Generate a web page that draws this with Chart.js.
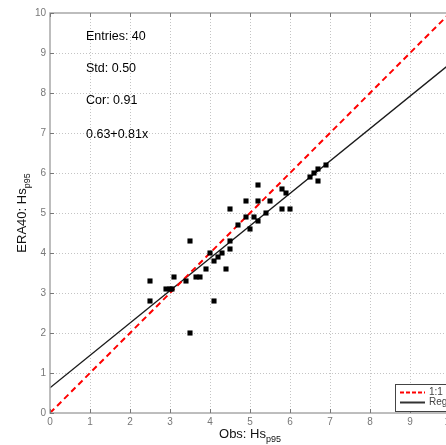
<!DOCTYPE html>
<html>
<head>
<meta charset="utf-8">
<script src="https://cdn.jsdelivr.net/npm/chart.js@4.4.0/dist/chart.umd.min.js"></script>
<style>
  html, body { margin: 0; padding: 0; background: #fff; overflow: hidden; }
  #wrap { width: 446px; height: 445px; overflow: hidden; position: relative; }
  canvas { display: block; }
</style>
</head>
<body>
<div id="wrap"><canvas id="c" width="470" height="445"></canvas></div>
<script>
// ---- Data ----
const obsHs = [2.5, 2.5, 2.9, 3.0, 3.05, 3.1, 3.4, 3.5, 3.5, 3.65,
               3.75, 3.9, 4.0, 4.1, 4.1, 4.2, 4.3, 4.4, 4.5, 4.5,
               4.5, 4.7, 4.9, 4.9, 5.0, 5.1, 5.2, 5.2, 5.2, 5.4,
               5.5, 5.8, 5.9, 5.8, 6.0, 6.5, 6.6, 6.7, 6.7, 6.9];
const eraHs = [3.3, 2.8, 3.1, 3.1, 3.1, 3.4, 3.3, 4.3, 2.0, 3.4,
               3.4, 3.6, 4.0, 3.8, 2.8, 3.9, 4.0, 3.6, 4.3, 4.1,
               5.1, 4.7, 5.3, 4.9, 4.6, 4.9, 5.7, 5.3, 4.8, 5.0,
               5.3, 5.6, 5.5, 5.1, 5.1, 5.9, 6.0, 6.1, 5.8, 6.2];
const oneToOneX = [0, 10];
const oneToOneY = [0, 10];
const regX = [0, 10];
const regY = [0.63, 8.73];
const xTicks = [0, 1, 2, 3, 4, 5, 6, 7, 8, 9, 10];
const yTicks = [0, 1, 2, 3, 4, 5, 6, 7, 8, 9, 10];
const statsLines = ['Entries: 40', 'Std: 0.50', 'Cor: 0.91', '0.63+0.81x'];
const statsY = [9.4, 8.6, 7.8, 6.95];
const statsX = 0.9;
const legendLabels = ['1:1', 'Reg'];

const FONT = '"Liberation Sans", Arial, Helvetica, sans-serif';

const zip = (xs, ys) => xs.map((v, i) => ({x: v, y: ys[i]}));

const decor = {
  id: 'decor',
  beforeDatasetsDraw(chart) {
    const {ctx, chartArea: a, scales: {x, y}} = chart;
    ctx.save();
    ctx.strokeStyle = '#c4c4c4';
    ctx.lineWidth = 1;
    ctx.setLineDash([1, 2]);
    xTicks.forEach(v => {
      const p = Math.round(x.getPixelForValue(v)) + 0.5;
      if (p <= a.left + 1 || p >= a.right - 1) return;
      ctx.beginPath(); ctx.moveTo(p, a.top); ctx.lineTo(p, a.bottom); ctx.stroke();
    });
    yTicks.forEach(v => {
      const p = Math.round(y.getPixelForValue(v)) + 0.5;
      if (p <= a.top + 1 || p >= a.bottom - 1) return;
      ctx.beginPath(); ctx.moveTo(a.left, p); ctx.lineTo(a.right, p); ctx.stroke();
    });
    ctx.restore();
  },
  afterDatasetsDraw(chart) {
    const {ctx, chartArea: a, scales: {x, y}} = chart;
    ctx.save();
    ctx.strokeStyle = '#a8a8a8';
    ctx.lineWidth = 1.5;
    ctx.setLineDash([]);
    ctx.strokeRect(a.left, a.top, a.right - a.left, a.bottom - a.top);
    ctx.strokeStyle = '#777';
    ctx.lineWidth = 1;
    xTicks.forEach(v => {
      const p = Math.round(x.getPixelForValue(v)) + 0.5;
      ctx.beginPath(); ctx.moveTo(p, a.bottom); ctx.lineTo(p, a.bottom - 4); ctx.stroke();
      ctx.beginPath(); ctx.moveTo(p, a.top); ctx.lineTo(p, a.top + 4); ctx.stroke();
    });
    yTicks.forEach(v => {
      const p = Math.round(y.getPixelForValue(v)) + 0.5;
      ctx.beginPath(); ctx.moveTo(a.left, p); ctx.lineTo(a.left + 4, p); ctx.stroke();
      ctx.beginPath(); ctx.moveTo(a.right, p); ctx.lineTo(a.right - 4, p); ctx.stroke();
    });
    ctx.fillStyle = '#000';
    ctx.font = '12.5px ' + FONT;
    ctx.textAlign = 'left';
    ctx.textBaseline = 'middle';
    statsLines.forEach((t, i) => {
      ctx.fillText(t, x.getPixelForValue(statsX), y.getPixelForValue(statsY[i]));
    });
    const bw = 53, bh = 27;
    const bx = a.right - 2 - bw, by = a.bottom - 2 - bh;
    ctx.fillStyle = '#fff';
    ctx.fillRect(bx, by, bw, bh);
    ctx.strokeStyle = '#444';
    ctx.lineWidth = 1;
    ctx.strokeRect(bx + 0.5, by + 0.5, bw, bh);
    const ly1 = by + 8.5, ly2 = by + 18.5;
    ctx.strokeStyle = '#ff0000';
    ctx.lineWidth = 2;
    ctx.setLineDash([4, 2]);
    ctx.beginPath(); ctx.moveTo(bx + 5, ly1); ctx.lineTo(bx + 30, ly1); ctx.stroke();
    ctx.setLineDash([]);
    ctx.strokeStyle = '#333';
    ctx.beginPath(); ctx.moveTo(bx + 5, ly2); ctx.lineTo(bx + 30, ly2); ctx.stroke();
    ctx.fillStyle = '#444';
    ctx.font = '10px ' + FONT;
    ctx.textBaseline = 'middle';
    ctx.fillText(legendLabels[0], bx + 34, ly1);
    ctx.fillText(legendLabels[1], bx + 34, ly2);
    ctx.restore();
  },
  afterDraw(chart) {
    const {ctx, chartArea: a} = chart;
    ctx.save();
    ctx.fillStyle = '#111';
    ctx.textBaseline = 'alphabetic';
    ctx.textAlign = 'left';
    const main = 'Hs', sub = 'p95';
    ctx.font = '13px ' + FONT;
    const xm = 'Obs: ' + main;
    const wMain = ctx.measureText(xm).width;
    ctx.font = '9px ' + FONT;
    const wSub = ctx.measureText(sub).width;
    const cx = (a.left + a.right) / 2;
    let sx = cx - (wMain + wSub) / 2;
    ctx.font = '13px ' + FONT;
    ctx.fillText(xm, sx, 438);
    ctx.font = '9px ' + FONT;
    ctx.fillText(sub, sx + wMain, 442);
    const ym = 'ERA40: ' + main;
    ctx.font = '13px ' + FONT;
    const wMainY = ctx.measureText(ym).width;
    const cy = (a.top + a.bottom) / 2;
    ctx.translate(26, cy);
    ctx.rotate(-Math.PI / 2);
    const sy = -(wMainY + wSub) / 2;
    ctx.fillText(ym, sy, 0);
    ctx.font = '9px ' + FONT;
    ctx.fillText(sub, sy + wMainY, 4);
    ctx.restore();
  }
};

new Chart(document.getElementById('c'), {
  type: 'scatter',
  data: {
    datasets: [
      {
        label: 'Data',
        data: zip(obsHs, eraHs),
        pointStyle: 'rect',
        pointRadius: 3.6,
        backgroundColor: '#000',
        borderColor: '#000',
        borderWidth: 0,
        showLine: false
      },
      {
        label: '1:1',
        type: 'line',
        data: zip(oneToOneX, oneToOneY),
        borderColor: '#ff0000',
        borderWidth: 2,
        borderDash: [6, 4],
        pointRadius: 0,
        fill: false
      },
      {
        label: 'Reg',
        type: 'line',
        data: zip(regX, regY),
        borderColor: '#1a1a1a',
        borderWidth: 1.4,
        pointRadius: 0,
        fill: false
      }
    ]
  },
  options: {
    responsive: false,
    animation: false,
    devicePixelRatio: 1,
    layout: { padding: { top: 13, right: 20, left: 0, bottom: 0 } },
    plugins: { legend: { display: false }, tooltip: { enabled: false } },
    scales: {
      x: {
        type: 'linear', min: 0, max: 10,
        afterBuildTicks: s => { s.ticks = xTicks.map(v => ({value: v})); },
        afterFit: s => { s.height = 32; },
        grid: { display: false, drawTicks: false },
        border: { display: false },
        ticks: { color: '#777', font: { family: FONT, size: 10 }, padding: 3, maxRotation: 0 }
      },
      y: {
        type: 'linear', min: 0, max: 10,
        afterBuildTicks: s => { s.ticks = yTicks.map(v => ({value: v})); },
        afterFit: s => { s.width = 50; },
        grid: { display: false, drawTicks: false },
        border: { display: false },
        ticks: { color: '#777', font: { family: FONT, size: 10 }, padding: 4 }
      }
    }
  },
  plugins: [decor]
});
</script>
</body>
</html>
